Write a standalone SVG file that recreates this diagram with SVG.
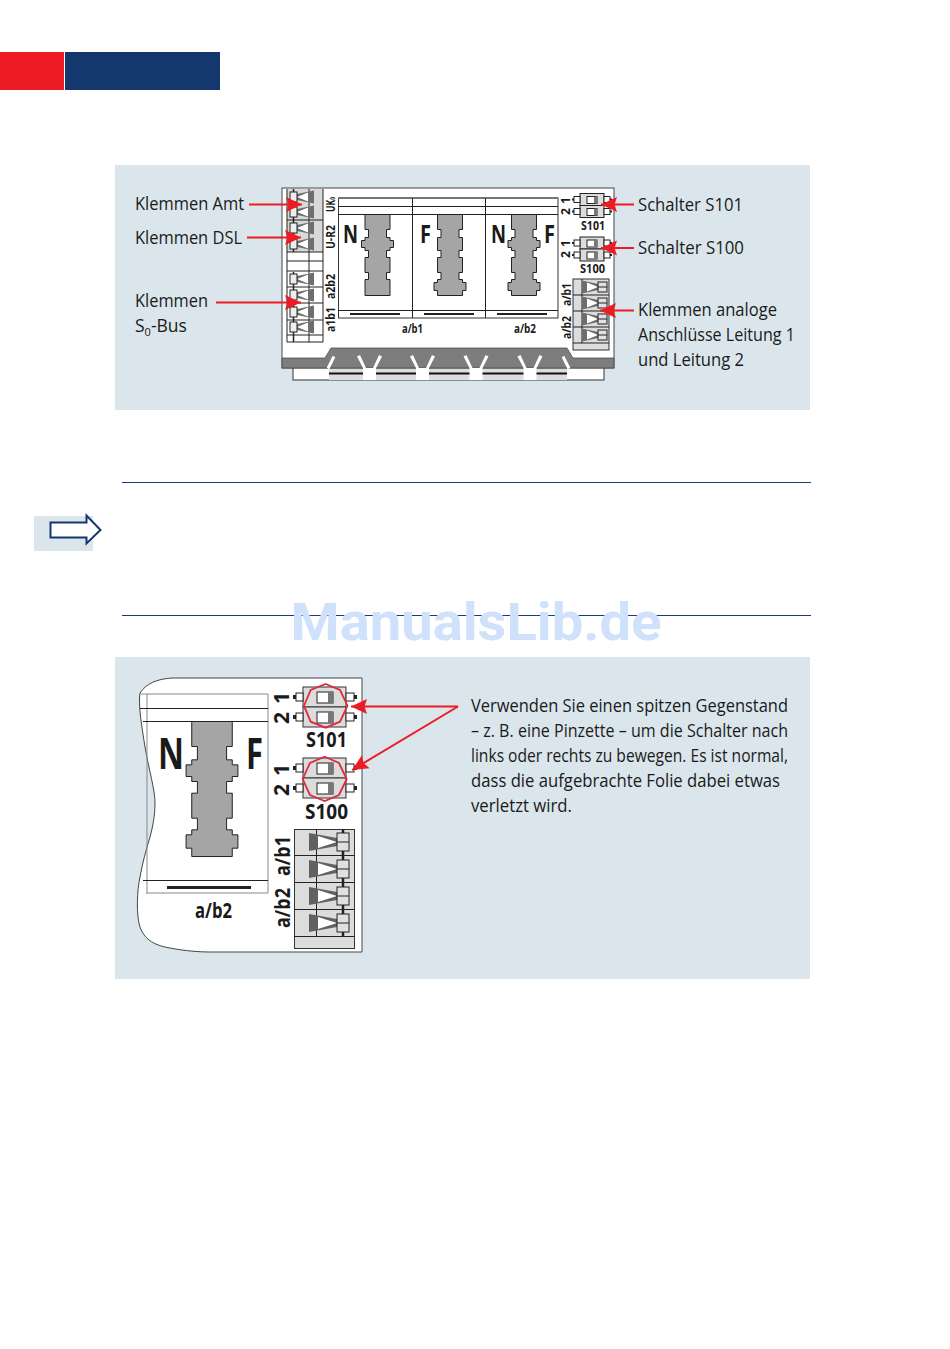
<svg xmlns="http://www.w3.org/2000/svg" width="950" height="1349" viewBox="0 0 950 1349">
<style>
text{font-family:"Open Sans","Liberation Sans",sans-serif;fill:#1a1a1a}
.lab{font-size:19px;font-weight:500}
.tb{font-size:12px;font-weight:700}
.tc{text-anchor:middle}
.bg{font-size:21px;font-weight:700}
.nf{font-weight:700;font-size:25px}
.nfb{font-weight:700;font-size:43px}
.pan{fill:#dae6ec}
.th{stroke:#222;stroke-width:1;fill:none}
.fu{fill:#a5a5a5;stroke:#222;stroke-width:1;vector-effect:non-scaling-stroke}
.ar{stroke:#ed1c24;stroke-width:2;fill:none;marker-end:url(#h)}
.oct{fill:none;stroke:#df2a3c;stroke-width:1.8}
</style>
<defs>
<marker id="h" markerUnits="userSpaceOnUse" markerWidth="18" markerHeight="16" refX="16" refY="8" orient="auto"><path d="M0 0.500L16 8L0 15.500L2.500 8Z" fill="#ed1c24"/></marker>
<path id="fa" class="fu" d="M-12.5 0H12.5V15H9V23H12.5V26H16V33H12.5V36H9V43H12.5V58H9V65H12.5V81H-12.5V65H-9V58H-12.5V43H-9V36H-12.5V33H-16V26H-12.5V23H-9V15H-12.5Z"/>
<path id="fb" class="fu" d="M-12.5 0H12.5V15H9V23H12.5V36H9V43H12.5V58H9V65H12.5V68H16V76H12.5V81H-12.5V76H-16V68H-12.5V65H-9V58H-12.5V43H-9V36H-12.5V23H-9V15H-12.5Z"/>
<path id="fc" class="fu" d="M-12.5 0H12.5V15H9V23H12.5V26H16V33H12.5V36H9V43H12.5V58H9V65H12.5V68H16V76H12.5V81H-12.5V76H-16V68H-12.5V65H-9V58H-12.5V43H-9V36H-12.5V33H-16V26H-12.5V23H-9V15H-12.5Z"/>
<g id="tl"><path d="M7 -3L24 -6.500V6.500L7 3Z" fill="#6e6e6e"/><path d="M7 0L18 -4.500V4.500Z" fill="#fff"/><rect x="0" y="-5" width="7" height="10" fill="#eee" stroke="#222" stroke-width="1"/></g>
<g id="tr"><path d="M0 -6.500L16 -3V3L0 6.500Z" fill="#6e6e6e"/><path d="M5 -4.500L16 0L5 4.500Z" fill="#fff"/><rect x="16" y="-5" width="9" height="10" fill="#e0e0e0" stroke="#222" stroke-width="1"/><path d="M16 0H25" stroke="#222"/></g>
<g id="trb"><path d="M0 -9L28 -4V4L0 9Z" fill="#616161"/><path d="M9 -6L28 0L9 6Z" fill="#fff"/><rect x="28" y="-9" width="12" height="18" fill="#e0e0e0" stroke="#222" stroke-width="1"/><path d="M28 0H40" stroke="#222"/></g>
<g id="sw"><rect x="0" y="0" width="24" height="12" fill="#dcdcdc" stroke="#222"/><rect x="7" y="3" width="10" height="7" fill="#fff" stroke="#222"/><rect x="14" y="3" width="3" height="7" fill="#777"/><rect x="-6" y="3" width="6" height="6" fill="#fff" stroke="#222"/><rect x="-8" y="5" width="2" height="2" fill="#222"/><rect x="24" y="3" width="6" height="6" fill="#fff" stroke="#222"/><rect x="30" y="5" width="2" height="2" fill="#222"/></g>
<g id="swb"><rect x="0" y="0" width="43" height="20" fill="#dcdcdc" stroke="#333"/><rect x="14" y="5" width="16" height="11" fill="#fff" stroke="#222"/><rect x="25" y="5" width="5" height="11" fill="#777"/><rect x="-7" y="6" width="7" height="8" fill="#fff" stroke="#222"/><rect x="-10" y="8" width="3" height="4" fill="#222"/><rect x="43" y="6" width="8" height="8" fill="#fff" stroke="#222"/><rect x="51" y="8" width="3" height="4" fill="#222"/></g>
<polygon id="y" points="-12.5,0.5 -9.5,-1 -3.5,12 3.5,12 9.5,-1 12.5,0.5 6.5,12 6.5,24 -6.5,24 -6.5,12" fill="#fff"/>
</defs>

<g id="header"><rect x="0" y="52" width="64" height="38" fill="#ed1c24"/><rect x="65" y="52" width="155" height="38" fill="#14386e"/></g>

<rect id="panel-top" class="pan" x="115" y="165" width="695" height="245"/>
<g id="device-top">
<rect x="293" y="366" width="311" height="14" fill="#fff" stroke="#333"/>
<rect x="329" y="368" width="238" height="12" fill="#ddd"/><path d="M329 373.500H567" stroke="#111" stroke-width="2"/>
<rect x="282" y="188" width="332" height="180" fill="#fff" stroke="#444" stroke-width="1"/>
<path d="M282 358H325L331 348H567L573 358H614V368H282Z" fill="#7d7d7d" stroke="#444" stroke-width=".7"/>
<use href="#y" x="369.500" y="356"/><use href="#y" x="422.500" y="356"/><use href="#y" x="476" y="356"/><use href="#y" x="530" y="356"/>
<path d="M334 356.500L328 368.500" stroke="#fff" stroke-width="3"/><path d="M563 356.500L569 368.500" stroke="#fff" stroke-width="3"/>
<rect x="287" y="189" width="36" height="63" fill="#d9d9d9"/>
<path class="th" d="M287 189V342H323V189M309 189V342M287 220H323M287 252H323M287 261H323M287 271H323M287 287H323M287 303H323M287 320H323M287 335H323"/>
<path d="M293.500 189V252M293.500 272V342" stroke="#222" stroke-width="1.500"/>
<use href="#tl" x="290" y="197"/><use href="#tl" x="290" y="212"/><use href="#tl" x="290" y="228"/><use href="#tl" x="290" y="244"/>
<use href="#tl" x="290" y="279"/><use href="#tl" x="290" y="295"/><use href="#tl" x="290" y="312"/><use href="#tl" x="290" y="327"/>
<rect x="338.500" y="198" width="219.500" height="120" fill="#fff" stroke="#333"/>
<path d="M338 198H558" stroke="#777" stroke-width="2"/>
<path class="th" d="M338 206.500H558M338 214.500H558M338 310.500H558M412.500 198V318M485.500 198V318"/>
<path d="M350 314H400M424 314H474M497 314H547" stroke="#222" stroke-width="2"/>
<use href="#fa" x="377.500" y="214.500"/><use href="#fb" x="450" y="214.500"/><use href="#fc" x="524" y="214.500"/>
<text class="nf" x="343" y="243" textLength="15" lengthAdjust="spacingAndGlyphs">N</text><text class="nf" x="420" y="243" textLength="11" lengthAdjust="spacingAndGlyphs">F</text><text class="nf" x="491" y="243" textLength="15" lengthAdjust="spacingAndGlyphs">N</text><text class="nf" x="544" y="243" textLength="11" lengthAdjust="spacingAndGlyphs">F</text>
<use href="#sw" x="580" y="193.500"/><use href="#sw" x="580" y="205.500"/><use href="#sw" x="580" y="237"/><use href="#sw" x="580" y="249"/>
<rect x="573" y="279" width="36" height="71" fill="#dcdcdc" stroke="#333"/>
<path class="th" d="M573 295H609M573 311H609M573 327H609M573 343H609M582 279V343"/>
<use href="#tr" x="582" y="287"/><use href="#tr" x="582" y="303"/><use href="#tr" x="582" y="319"/><use href="#tr" x="582" y="335"/>
<g class="tb">
<text transform="translate(334.500 212) rotate(-90)" textLength="15" lengthAdjust="spacingAndGlyphs">UK<tspan font-size="7">0</tspan></text>
<text transform="translate(334.500 249) rotate(-90)" textLength="24" lengthAdjust="spacingAndGlyphs">U-R2</text>
<text transform="translate(334.500 299) rotate(-90)" textLength="25" lengthAdjust="spacingAndGlyphs">a2b2</text>
<text transform="translate(334.500 332) rotate(-90)" textLength="25" lengthAdjust="spacingAndGlyphs">a1b1</text>
<text transform="translate(570 204) rotate(-90)">1</text><text transform="translate(570 215) rotate(-90)">2</text>
<text transform="translate(570 247) rotate(-90)">1</text><text transform="translate(570 258) rotate(-90)">2</text>
<text transform="translate(571 306) rotate(-90)" textLength="23" lengthAdjust="spacingAndGlyphs">a/b1</text>
<text transform="translate(571 339) rotate(-90)" textLength="23" lengthAdjust="spacingAndGlyphs">a/b2</text>
<text x="581" y="230" textLength="24" lengthAdjust="spacingAndGlyphs">S101</text><text x="580" y="273" textLength="25" lengthAdjust="spacingAndGlyphs">S100</text>
<text x="402" y="333" textLength="21" lengthAdjust="spacingAndGlyphs">a/b1</text><text x="514" y="333" textLength="22" lengthAdjust="spacingAndGlyphs">a/b2</text>
</g>
</g>
<g id="labels-top">
<text class="lab" x="135" y="210" textLength="109" lengthAdjust="spacingAndGlyphs">Klemmen Amt</text>
<text class="lab" x="135" y="244" textLength="107" lengthAdjust="spacingAndGlyphs">Klemmen DSL</text>
<text class="lab" x="135" y="307" textLength="73" lengthAdjust="spacingAndGlyphs">Klemmen</text>
<text class="lab" x="135" y="332" style="font-size:17.5px">S<tspan font-size="11" dy="4">0</tspan><tspan dy="-4">-Bus</tspan></text>
<text class="lab" x="638" y="211" textLength="105" lengthAdjust="spacingAndGlyphs">Schalter S101</text>
<text class="lab" x="638" y="254" textLength="106" lengthAdjust="spacingAndGlyphs">Schalter S100</text>
<text class="lab" x="638" y="316" textLength="139" lengthAdjust="spacingAndGlyphs">Klemmen analoge</text>
<text class="lab" x="638" y="341" textLength="157" lengthAdjust="spacingAndGlyphs">Anschlüsse Leitung 1</text>
<text class="lab" x="638" y="366" textLength="106" lengthAdjust="spacingAndGlyphs">und Leitung 2</text>
</g>

<g id="note">
<path d="M122 482.500H811M122 615.500H811" stroke="#1f3a7a" stroke-width="1"/>
<rect class="pan" x="34" y="516" width="59" height="35"/>
<path d="M50.500 522.500H86.500V515.500L100.500 530L86.500 543.500V537.500H50.500Z" fill="#fff" stroke="#14386e" stroke-width="2"/>
</g>

<rect id="panel-bottom" class="pan" x="115" y="657" width="695" height="322"/>
<g id="device-bottom">
<path d="M362 678H172C156 679 146 684 140 693C138 705 142 728 145 747C149 770 155 790 155 803C155 815 153 826 150 837C146 850 142 865 140 877C137 890 136 915 140 927C144 938 152 945 170 948C185 951 200 952 210 952H362Z" fill="#fff" stroke="#444"/>
<path d="M141 694H268V893H146M147 694V893" fill="none" stroke="#888"/>
<path class="th" d="M140 708.500H268M143 721.500H268M143 880.500H268"/>
<path d="M167 887.500H251" stroke="#222" stroke-width="3"/>
<use href="#fc" transform="translate(212 721.500) scale(1.62 1.667)"/>
<text class="nfb" x="158" y="769" textLength="26" lengthAdjust="spacingAndGlyphs">N</text><text class="nfb" x="246" y="769" textLength="17" lengthAdjust="spacingAndGlyphs">F</text>
<use href="#swb" x="303" y="687"/><use href="#swb" x="303" y="707"/><use href="#swb" x="303" y="758"/><use href="#swb" x="303" y="778"/>
<polygon class="oct" points="325.700,684 340,690 347.500,705.700 340,721.700 325.700,727.700 310.700,721.700 304,705.700 310.700,690"/>
<polygon class="oct" points="324.700,756.700 339,763 346.700,779 339,795 324.700,801 310,795 302.700,779 310,763"/>
<rect x="294.500" y="829.500" width="60" height="119" fill="#dcdcdc" stroke="#333"/>
<path class="th" d="M294 855.500H354M294 882.500H354M294 909.500H354M294 936.500H354M316.500 829V936"/>
<path d="M343 829V936" stroke="#222" stroke-width="2.500"/>
<use href="#trb" x="309" y="842"/><use href="#trb" x="309" y="869"/><use href="#trb" x="309" y="896"/><use href="#trb" x="309" y="923"/>
<g class="bg">
<text x="306" y="747" textLength="41" lengthAdjust="spacingAndGlyphs">S101</text><text x="305" y="819" textLength="43" lengthAdjust="spacingAndGlyphs">S100</text>
<text x="195" y="918" textLength="37" lengthAdjust="spacingAndGlyphs">a/b2</text>
<text transform="translate(289 704) rotate(-90)">1</text><text transform="translate(289 724) rotate(-90)">2</text>
<text transform="translate(289 776) rotate(-90)">1</text><text transform="translate(289 796) rotate(-90)">2</text>
<text transform="translate(290 876) rotate(-90)" textLength="40" lengthAdjust="spacingAndGlyphs">a/b1</text>
<text transform="translate(290 928) rotate(-90)" textLength="40" lengthAdjust="spacingAndGlyphs">a/b2</text>
</g>
</g>
<g id="label-bottom">
<text class="lab" x="471" y="712" textLength="317" lengthAdjust="spacingAndGlyphs">Verwenden Sie einen spitzen Gegenstand</text>
<text class="lab" x="471" y="737" textLength="317" lengthAdjust="spacingAndGlyphs">– z. B. eine Pinzette – um die Schalter nach</text>
<text class="lab" x="471" y="762" textLength="317" lengthAdjust="spacingAndGlyphs">links oder rechts zu bewegen. Es ist normal,</text>
<text class="lab" x="471" y="787" textLength="309" lengthAdjust="spacingAndGlyphs">dass die aufgebrachte Folie dabei etwas</text>
<text class="lab" x="471" y="812" textLength="101" lengthAdjust="spacingAndGlyphs">verletzt wird.</text>
</g>

<g id="connectors">
<path class="ar" d="M249 204.500H302"/>
<path class="ar" d="M247 237.500H301"/>
<path class="ar" d="M216 302.500H301"/>
<path class="ar" d="M634 204.500H601"/>
<path class="ar" d="M634 248H601"/>
<path class="ar" d="M634 310.500H600"/>
<path class="ar" d="M458 706.500H351"/>
<path class="ar" d="M458 706.500L352 770"/>
</g>

<text id="watermark" x="476" y="640" text-anchor="middle" style="font-family:Roboto,'Liberation Sans',sans-serif;font-size:51px;font-weight:700;fill:#cfe1fb" textLength="371" lengthAdjust="spacingAndGlyphs">ManualsLib.de</text>
</svg>
